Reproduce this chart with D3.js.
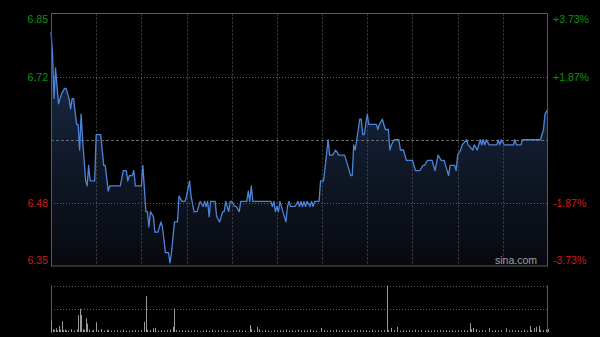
<!DOCTYPE html>
<html><head><meta charset="utf-8">
<script src="https://cdn.jsdelivr.net/npm/d3@7"></script>
<style>
html,body{margin:0;padding:0;background:#000;}
svg{display:block;font-family:"Liberation Sans",Arial,sans-serif;}
</style></head><body>
<svg id="c" width="600" height="337"></svg>
<script>
// ---- data (minutes since 09:30 open, trading minutes; lunch break removed) ----
const times = [0,1,2,3,5,7,9,10,12,13,14,15,17,18,19,20,21,23,24,25,26,29,30,33,35,36,38,39,46,48,50,51,52,54,55,56,60,61,63,64,65,66,68,69,71,73,74,76,78,79,80,82,84,85,87,89,90,92,93,95,97,99,101,102,103,104,105,106,109,110,112,114,115,116,118,119,120,122,123,125,126,130,131,132,133,134,146,147,148,149,150,151,152,154,156,157,158,159,162,164,165,166,167,168,169,170,172,173,174,175,178,179,181,184,185,187,189,191,195,199,200,201,202,205,206,207,208,210,211,216,217,218,220,222,224,225,226,228,231,232,234,236,240,242,245,247,248,250,253,255,257,259,261,262,264,265,268,269,270,272,273,276,277,280,281,283,285,286,287,288,289,291,296,297,298,299,301,307,308,309,312,313,325,327,328,330];
const prices = [6.81,6.77,6.68,6.74,6.67,6.69,6.70,6.70,6.68,6.66,6.68,6.68,6.63,6.63,6.58,6.65,6.60,6.52,6.51,6.55,6.52,6.52,6.61,6.61,6.55,6.55,6.50,6.51,6.51,6.54,6.54,6.52,6.53,6.53,6.54,6.51,6.51,6.55,6.46,6.46,6.43,6.46,6.45,6.42,6.42,6.44,6.43,6.38,6.38,6.36,6.38,6.44,6.44,6.49,6.48,6.48,6.49,6.52,6.49,6.46,6.46,6.48,6.47,6.48,6.47,6.48,6.45,6.48,6.48,6.45,6.44,6.46,6.46,6.48,6.46,6.48,6.48,6.47,6.47,6.46,6.48,6.48,6.50,6.48,6.51,6.48,6.48,6.47,6.48,6.46,6.47,6.46,6.48,6.46,6.44,6.47,6.48,6.47,6.47,6.48,6.47,6.48,6.47,6.48,6.47,6.48,6.47,6.48,6.47,6.48,6.48,6.52,6.52,6.60,6.57,6.57,6.58,6.57,6.57,6.53,6.53,6.59,6.58,6.64,6.64,6.61,6.61,6.65,6.63,6.63,6.62,6.63,6.64,6.62,6.62,6.58,6.59,6.60,6.60,6.58,6.58,6.56,6.56,6.54,6.54,6.55,6.55,6.56,6.56,6.54,6.57,6.56,6.56,6.55,6.53,6.55,6.55,6.54,6.57,6.58,6.59,6.60,6.59,6.58,6.59,6.58,6.60,6.59,6.60,6.59,6.60,6.59,6.59,6.60,6.59,6.60,6.59,6.59,6.60,6.59,6.59,6.60,6.60,6.62,6.65,6.66];
const volTimes = [0,1,2,3,4,5,6,7,8,9,10,11,13,15,17,18,19,20,21,22,23,24,25,27,28,30,31,33,35,37,38,40,42,44,46,48,50,52,54,56,58,60,62,63,64,66,68,69,71,73,75,77,79,81,82,83,85,87,89,91,93,95,97,99,101,103,105,107,109,111,113,115,117,119,121,123,125,127,129,132,133,135,137,138,140,142,144,146,148,150,152,154,156,158,160,162,164,166,168,170,172,174,176,179,181,183,185,187,189,191,193,195,197,199,201,203,205,207,209,211,213,215,217,219,221,223,224,226,228,230,232,234,236,238,240,242,244,246,248,250,252,254,256,258,260,262,264,266,268,270,272,274,276,278,279,280,282,284,286,288,291,293,295,297,299,302,304,306,308,310,312,314,316,318,319,321,322,324,325,327,329,330];
const volValues = [24,6,4,8,3,13,5,23,4,5,3,3,6,3,5,36,50,37,6,4,29,18,5,3,4,21,4,6,3,4,5,3,3,4,3,5,3,3,4,4,3,4,22,77,5,4,8,9,3,4,3,4,5,11,50,4,3,4,3,4,3,4,3,2,3,4,3,5,3,4,3,4,3,2,4,3,4,3,3,15,6,3,11,6,3,4,3,2,4,3,4,3,5,3,4,3,5,3,4,3,5,3,3,9,4,3,4,3,5,3,4,3,4,3,5,3,4,3,4,3,5,3,4,3,4,100,4,9,4,11,3,4,3,4,3,5,3,4,3,4,3,4,3,4,3,4,3,4,3,4,3,4,3,19,6,9,6,3,4,3,8,3,4,3,4,8,3,4,3,4,3,5,3,13,4,8,11,13,5,4,5,6];
const prevClose = 6.60;
const priceMin = 6.354, priceMax = 6.846;
const priceTickValues = [6.846, 6.723, 6.477, 6.354];
const priceTickLabels = ["6.85", "6.72", "6.48", "6.35"];
const pctTickLabels = ["+3.73%", "+1.87%", "-1.87%", "-3.73%"];
const gridMinutes = [30, 60, 90, 120, 150, 180, 210, 240, 270, 300];
const volMax = 100;

// ---- layout ----
const L = 51, R = 548, T = 13.5, B = 266, VT = 285.5, VB = 332;
const svg = d3.select("#c");
const x = d3.scaleLinear().domain([0, 330]).range([L, R]);
const y = d3.scaleLinear().domain([priceMin, priceMax]).range([B, T]);
const yv = d3.scaleLinear().domain([0, volMax]).range([VB, VT]);
const data = times.map((t, i) => ({t, p: prices[i]}));

svg.append("rect").attr("width", 600).attr("height", 337).attr("fill", "#000");

const defs = svg.append("defs");
const grad = defs.append("linearGradient").attr("id", "ag")
  .attr("gradientUnits", "userSpaceOnUse").attr("x1", 0).attr("x2", 0).attr("y1", T).attr("y2", B);
grad.append("stop").attr("offset", "0%").attr("stop-color", "#1e3050");
grad.append("stop").attr("offset", "100%").attr("stop-color", "#07090e");

// area
svg.append("path").datum(data)
  .attr("d", d3.area().x(d => x(d.t)).y0(B).y1(d => y(d.p)))
  .attr("fill", "url(#ag)");

// vertical grid
svg.append("g").selectAll("line").data(gridMinutes).join("line")
  .attr("x1", d => Math.round(x(d)) + 0.5).attr("x2", d => Math.round(x(d)) + 0.5)
  .attr("y1", T).attr("y2", B)
  .attr("stroke", "#474747").attr("stroke-dasharray", "2,2");

// horizontal grid
svg.append("g").selectAll("line").data([6.723, 6.477]).join("line")
  .attr("x1", L).attr("x2", R)
  .attr("y1", d => Math.round(y(d)) + 0.5).attr("y2", d => Math.round(y(d)) + 0.5)
  .attr("stroke", "#5e5e5e").attr("stroke-dasharray", "1,2");
svg.append("line")
  .attr("x1", L).attr("x2", R)
  .attr("y1", Math.round(y(prevClose)) + 0.5).attr("y2", Math.round(y(prevClose)) + 0.5)
  .attr("stroke", "#6a6a6a").attr("stroke-dasharray", "3,2");

// price line
svg.append("path").datum(data)
  .attr("d", d3.line().x(d => x(d.t)).y(d => y(d.p)))
  .attr("fill", "none").attr("stroke", "#4d84d8").attr("stroke-width", 1.3)
  .attr("stroke-linejoin", "round");

// frame
svg.append("rect").attr("x", L + 0.5).attr("y", T).attr("width", R - L - 1).attr("height", B - T)
  .attr("fill", "none").attr("stroke", "#5a5a5a");

// axes labels
const axL = svg.append("g").attr("transform", `translate(${L},0)`)
  .call(d3.axisLeft(y).tickValues(priceTickValues).tickSize(0).tickPadding(3)
    .tickFormat((d, i) => priceTickLabels[i]));
const axR = svg.append("g").attr("transform", `translate(${R},0)`)
  .call(d3.axisRight(y).tickValues(priceTickValues).tickSize(0).tickPadding(5)
    .tickFormat((d, i) => pctTickLabels[i]));
[axL, axR].forEach(ax => {
  ax.select(".domain").remove();
  ax.selectAll("text")
    .attr("font-size", 10.5)
    .attr("font-family", "'Liberation Sans', Arial, sans-serif")
    .attr("fill", (d, i) => i < 2 ? "#0b930b" : "#d21a1a")
    .attr("dy", (d, i) => i === 0 ? "0.85em" : i === 3 ? "-0.2em" : "0.32em");
});

// watermark
svg.append("text").attr("x", 537).attr("y", 264).attr("text-anchor", "end")
  .attr("font-size", 10.5).attr("fill", "#a0a0a0").text("sina.com");

// volume panel
svg.append("g").selectAll("line").data([volMax, volMax / 2]).join("line")
  .attr("x1", L).attr("x2", R)
  .attr("y1", d => Math.round(yv(d)) + 0.5).attr("y2", d => Math.round(yv(d)) + 0.5)
  .attr("stroke", "#5e5e5e").attr("stroke-dasharray", "1,2");
svg.append("line").attr("x1", L + 0.5).attr("x2", L + 0.5).attr("y1", VT).attr("y2", VB + 1).attr("stroke", "#5a5a5a");
svg.append("line").attr("x1", R - 0.5).attr("x2", R - 0.5).attr("y1", VT).attr("y2", VB + 1).attr("stroke", "#5a5a5a");
svg.append("g").selectAll("line").data(volTimes.map((t, i) => ({t, v: volValues[i]}))).join("line")
  .attr("x1", d => Math.round(x(d.t)) + 0.5).attr("x2", d => Math.round(x(d.t)) + 0.5)
  .attr("y1", VB).attr("y2", d => yv(d.v))
  .attr("stroke", "#9a9a9a").attr("stroke-width", 1);
</script>
</body></html>
